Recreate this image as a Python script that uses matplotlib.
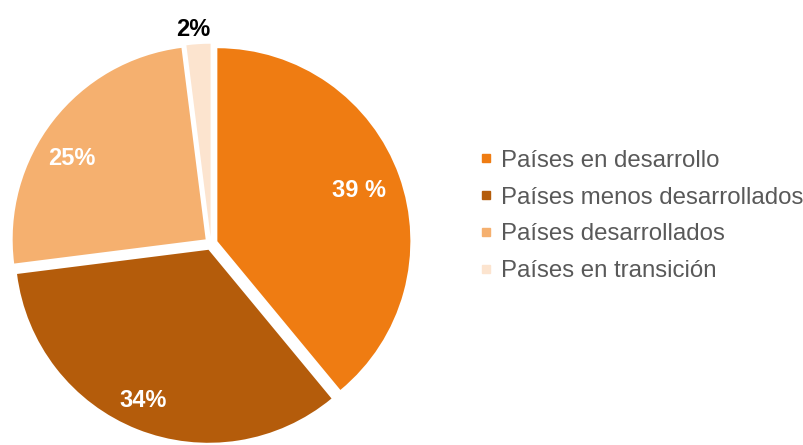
import numpy as np
import matplotlib
matplotlib.use("Agg")
import matplotlib.pyplot as plt
from matplotlib.lines import Line2D

categories = ["Países en desarrollo", "Países menos desarrollados",
              "Países desarrollados", "Países en transición"]
values = [39, 34, 25, 2]
value_labels = ["39 %", "34%", "25%", "2%"]

colors = ["#EF7C12", "#B45C0B", "#F5B06F", "#FCE4CF"]
label_colors = ["white", "white", "white", "black"]
label_dist = [0.78, 0.85, 0.81, 1.08]
label_angle_offset = [0, -2, 6.5, 1.2]

plt.rcParams['font.family'] = ['Liberation Sans', 'DejaVu Sans']

W, H = 804, 445
fig = plt.figure(figsize=(W / 100, H / 100), dpi=100)

R = 193.0       # pie radius in px
cx, cy = 211, 243.5  # pie center in px (from top-left)
box = 400
ax = fig.add_axes([(cx - box / 2) / W, (H - cy - box / 2) / H, box / W, box / H])
explode = 0.035
wedges, _ = ax.pie(values, colors=colors, startangle=90, counterclock=False,
                   explode=[explode] * len(values), radius=1.0,
                   wedgeprops=dict(linewidth=0))
L = (box / 2) / R
ax.set_xlim(-L, L)
ax.set_ylim(-L, L)
ax.set_aspect('equal')
ax.axis('off')

for w, lab, col, d, off in zip(wedges, value_labels, label_colors, label_dist,
                               label_angle_offset):
    mid = np.deg2rad((w.theta1 + w.theta2) / 2 + off)
    ox, oy = w.center
    ax.text(ox + d * np.cos(mid), oy + d * np.sin(mid), lab, color=col,
            fontsize=17, fontweight='bold', ha='center', va='center')

handles = [Line2D([], [], marker='s', linestyle='none', markersize=6,
                  markerfacecolor=c, markeredgecolor=c) for c in colors]
leg = fig.legend(handles, categories, loc='center left',
                 bbox_to_anchor=(479 / W, 1 - 216 / H), frameon=False,
                 fontsize=17.3, labelspacing=0.62, handlelength=0.6,
                 handletextpad=0.3, borderaxespad=0, borderpad=0)
for t in leg.get_texts():
    t.set_color('#595959')

fig.savefig("out.png", dpi=100)
